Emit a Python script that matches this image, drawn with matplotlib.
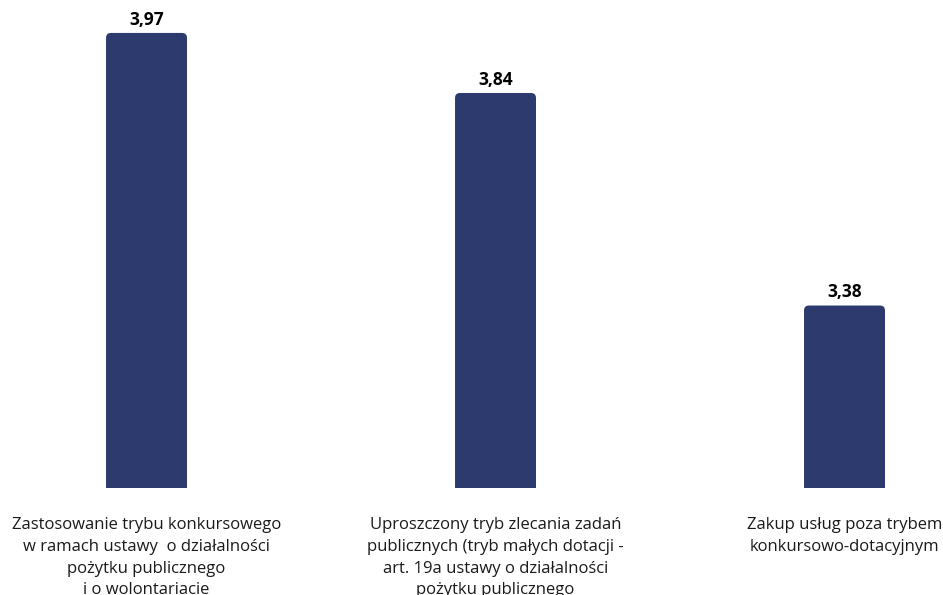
import matplotlib
matplotlib.use("Agg")
import matplotlib.pyplot as plt
from matplotlib.patches import FancyBboxPatch

categories = [
    "Zastosowanie trybu konkursowego\nw ramach ustawy  o działalności\npożytku publicznego\ni o wolontariacie",
    "Uproszczony tryb zlecania zadań\npublicznych (tryb małych dotacji -\nart. 19a ustawy o działalności\npożytku publicznego",
    "Zakup usług poza trybem\nkonkursowo-dotacyjnym",
]
values = [3.97, 3.84, 3.38]
value_labels = ["3,97", "3,84", "3,38"]

BAR_COLOR = "#2C3A6E"
FONT = ["Open Sans", "DejaVu Sans"]

W, H, DPI = 943, 595, 100
fig = plt.figure(figsize=(W / DPI, H / DPI), dpi=DPI)
ax_bottom = (H - 488) / H
ax = fig.add_axes([0, ax_bottom, 1, 1 - ax_bottom])

y0, y1 = 2.985, 2.985 + 488 / 462.0
ax.set_ylim(y0, y1)
ax.set_xlim(-0.4198, 2.2822)

bar_w = 0.232
bars = ax.bar(range(len(values)), [v - y0 for v in values], bottom=y0,
              width=bar_w, color=BAR_COLOR)

# Replace the plain rectangles by boxes with rounded top corners
px_x = W / (ax.get_xlim()[1] - ax.get_xlim()[0])
px_y = 488 / (y1 - y0)
r_px = 5
r_x = r_px / px_x
aspect = (r_px / px_y) / r_x
for b in bars:
    b.set_visible(False)
    x, w, top = b.get_x(), b.get_width(), b.get_y() + b.get_height()
    bottom = y0 - 0.05
    p = FancyBboxPatch((x, bottom), w, top - bottom,
                       boxstyle=f"round,pad=0,rounding_size={r_x}",
                       mutation_aspect=aspect, facecolor=BAR_COLOR,
                       edgecolor="none", clip_on=True)
    ax.add_patch(p)

for i, (v, lab) in enumerate(zip(values, value_labels)):
    ax.annotate(lab, (i, v), xytext=(0, 3), textcoords="offset points",
                ha="center", va="bottom", fontsize=12.5, fontweight="bold",
                family=FONT, color="#000000")

ax.set_xticks(range(len(categories)))
ax.set_xticklabels(categories, family=FONT, fontsize=12, linespacing=1.48,
                   color="#1a1a1a")
ax.tick_params(axis="x", length=0, pad=21)
ax.set_yticks([])
for s in ax.spines.values():
    s.set_visible(False)

fig.savefig("out.png", dpi=DPI)
